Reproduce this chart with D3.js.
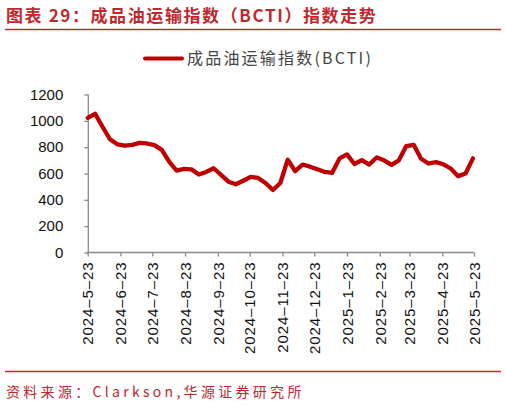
<!DOCTYPE html>
<html lang="zh">

<head>
    <meta charset="UTF-8">
    <title>BCTI</title>
    <script src="https://cdn.jsdelivr.net/npm/d3@7"></script>
    <style>
        body { margin: 0; background: #fff; }
        svg { display: block; }
    </style>
</head>

<body>
    <div id="box"></div>

    <script>
        // 周度数据 2024-05-23 ~ 2025-05-22
        var dates = ["2024-05-23", "2024-05-30", "2024-06-06", "2024-06-13", "2024-06-20", "2024-06-27",
            "2024-07-04", "2024-07-11", "2024-07-18", "2024-07-25", "2024-08-01", "2024-08-08",
            "2024-08-15", "2024-08-22", "2024-08-29", "2024-09-05", "2024-09-12", "2024-09-19",
            "2024-09-26", "2024-10-03", "2024-10-10", "2024-10-17", "2024-10-24", "2024-10-31",
            "2024-11-07", "2024-11-14", "2024-11-21", "2024-11-28", "2024-12-05", "2024-12-12",
            "2024-12-19", "2024-12-26", "2025-01-02", "2025-01-09", "2025-01-16", "2025-01-23",
            "2025-01-30", "2025-02-06", "2025-02-13", "2025-02-20", "2025-02-27", "2025-03-06",
            "2025-03-13", "2025-03-20", "2025-03-27", "2025-04-03", "2025-04-10", "2025-04-17",
            "2025-04-24", "2025-05-01", "2025-05-08", "2025-05-15", "2025-05-22"];
        var bcti = [1023, 1053, 955, 860, 822, 812, 818, 832, 828, 815, 780, 690,
            622, 635, 632, 592, 612, 640, 590, 538, 518, 545, 575, 566,
            528, 475, 528, 705, 618, 668, 652, 632, 612, 605, 715, 745,
            672, 702, 668, 722, 700, 666, 700, 808, 818, 712, 676, 686,
            670, 638, 580, 600, 715];
        var xTicks = ["2024-5-23", "2024-6-23", "2024-7-23", "2024-8-23", "2024-9-23", "2024-10-23",
            "2024-11-23", "2024-12-23", "2025-1-23", "2025-2-23", "2025-3-23", "2025-4-23", "2025-5-23"];
        var yTicks = [0, 200, 400, 600, 800, 1000, 1200];

        let width = 506,
            height = 405;
        var red = "#c0282e",
            lineRed = "#c00000";

        var parse = d3.timeParse("%Y-%m-%d");
        var data = dates.map((d, i) => ({ date: parse(d), v: bcti[i] }));
        var tickDates = xTicks.map(t => parse(t));

        var x = d3.scaleTime()
            .domain([tickDates[0], tickDates[tickDates.length - 1]])
            .range([87.7, 474]);
        var y = d3.scaleLinear()
            .domain([0, 1200])
            .range([252.5, 94.5]);

        const svg = d3.select("#box")
            .append("svg")
            .attr("width", width)
            .attr("height", height);

        // 标题
        svg.append("text")
            .attr("x", 6)
            .attr("y", 22)
            .attr("fill", red)
            .style("font-family", "'Noto Sans CJK SC'")
            .style("font-weight", "bold")
            .style("font-size", "17px")
            .style("letter-spacing", "1.6px")
            .text("图表 29：成品油运输指数（BCTI）指数走势");
        svg.append("line")
            .attr("x1", 5).attr("x2", 501)
            .attr("y1", 29.5).attr("y2", 29.5)
            .attr("stroke", red)
            .attr("stroke-width", 1.5);

        // 图例
        svg.append("line")
            .attr("x1", 145).attr("x2", 182)
            .attr("y1", 58.5).attr("y2", 58.5)
            .attr("stroke", lineRed)
            .attr("stroke-width", 4)
            .attr("stroke-linecap", "round");
        svg.append("text")
            .attr("x", 187)
            .attr("y", 64)
            .attr("fill", "#444")
            .style("font-family", "'Noto Sans CJK SC'")
            .style("font-size", "16px")
            .style("letter-spacing", "2.2px")
            .text("成品油运输指数(BCTI)");

        // y 轴
        var yAxis = d3.axisLeft(y)
            .tickValues(yTicks)
            .tickSize(4)
            .tickPadding(21)
            .tickFormat(d3.format("d"));
        var gy = svg.append("g")
            .attr("transform", "translate(88.3,0)")
            .call(yAxis);
        gy.select(".domain").attr("d", "M0," + y(1200) + "V" + y(0));

        // x 轴
        var xAxis = d3.axisBottom(x)
            .tickValues(tickDates)
            .tickSize(4)
            .tickSizeOuter(0)
            .tickFormat((d, i) => xTicks[i].replace(/-/g, "–"));
        var gx = svg.append("g")
            .attr("transform", "translate(0," + y(0) + ")")
            .call(xAxis);
        gx.select(".domain").attr("d", "M" + (x.range()[0] - 1) + ",0H" + x.range()[1]);
        gx.selectAll("text")
            .attr("transform", "rotate(-90)")
            .attr("text-anchor", "end")
            .attr("x", -9)
            .attr("y", 0)
            .attr("dy", "0.35em")
            .style("letter-spacing", "0.9px");

        svg.selectAll(".domain, .tick line")
            .attr("stroke", "#8c8c8c")
            .attr("stroke-width", 1.3);
        svg.selectAll(".tick text")
            .attr("fill", "#111")
            .style("font-family", "'Liberation Sans', Arial")
            .style("font-size", "15px");

        // 折线
        var line = d3.line()
            .x(d => x(d.date))
            .y(d => y(d.v));
        svg.append("path")
            .datum(data)
            .attr("d", line)
            .attr("fill", "none")
            .attr("stroke", lineRed)
            .attr("stroke-width", 4.3)
            .attr("stroke-linejoin", "round")
            .attr("stroke-linecap", "round");

        // 资料来源
        svg.append("line")
            .attr("x1", 5).attr("x2", 501)
            .attr("y1", 371.5).attr("y2", 371.5)
            .attr("stroke", red)
            .attr("stroke-width", 1.5);
        svg.append("text")
            .attr("x", 6)
            .attr("y", 397)
            .attr("fill", red)
            .style("font-family", "'Noto Sans CJK SC'")
            .style("font-size", "14px")
            .style("letter-spacing", "3.3px")
            .text("资料来源：Clarkson,华源证券研究所");
    </script>
</body>

</html>
